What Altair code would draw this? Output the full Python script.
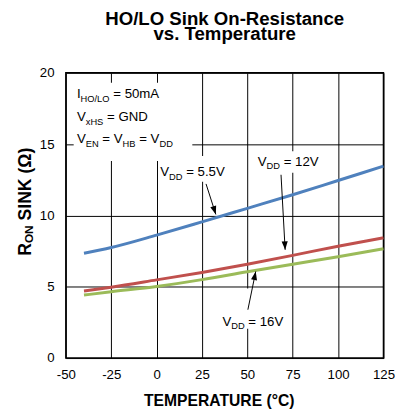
import math
import altair as alt
import pandas as pd

# ---------------- data ----------------
temps = [-40, -25, 0, 25, 50, 75, 100, 125]
r_vdd_55 = [7.35, 7.75, 8.62, 9.55, 10.50, 11.45, 12.45, 13.45]
r_vdd_12 = [4.70, 4.97, 5.48, 6.00, 6.58, 7.20, 7.84, 8.43]
r_vdd_16 = [4.42, 4.65, 5.02, 5.50, 6.05, 6.58, 7.10, 7.66]
series_names = ["VDD = 5.5V", "VDD = 12V", "VDD = 16V"]
series_colors = ["#4f81bd", "#c0504d", "#9bbb59"]
x_ticks = [-50, -25, 0, 25, 50, 75, 100, 125]
y_ticks = [0, 5, 10, 15, 20]
title_lines = ["HO/LO Sink On-Resistance", "vs. Temperature"]
x_title = "TEMPERATURE (°C)"

# ---------------- layout ----------------
W, H = 324, 291
X0, X1, Y0, Y1 = -50, 125, 0, 20
KX = W / (X1 - X0)
KY = H / (Y1 - Y0)
FONT = "Liberation Sans"
MAIN, SUB = 13.5, 9.5
SUB_DROP = 3.5

rows = []
for name, vals in zip(series_names, [r_vdd_55, r_vdd_12, r_vdd_16]):
    for t, v in zip(temps, vals):
        rows.append({"x": t, "y": v, "series": name})
df_lines = pd.DataFrame(rows)

# Arial/Liberation Sans advance widths (per 1000 em)
REG = {' ': 278, '(': 333, ')': 333, '.': 278, '/': 278, '=': 584,
       '0': 556, '1': 556, '2': 556, '5': 556, '6': 556,
       'A': 667, 'B': 667, 'D': 722, 'E': 667, 'G': 778, 'H': 722, 'I': 278,
       'L': 556, 'N': 722, 'O': 778, 'S': 667, 'V': 667, 'm': 833, 'x': 500}
BOLD = {' ': 278, '(': 333, ')': 333, 'I': 278, 'K': 722, 'N': 722,
        'O': 778, 'R': 722, 'S': 667, 'Ω': 768}


def tw(s, size, table):
    return sum(table.get(c, 556) for c in s) * size / 1000.0


# annotation labels: anchor (data coords) + runs (text, subscript?)
labels = [
    (-43.9, 18.21, [("I", 0), ("HO/LO", 1), (" = 50mA", 0)]),
    (-43.9, 16.61, [("V", 0), ("xHS", 1), (" = GND", 0)]),
    (-43.9, 15.07, [("V", 0), ("EN", 1), (" = V", 0), ("HB", 1), (" = V", 0), ("DD", 1)]),
    (2.01, 12.74, [("V", 0), ("DD", 1), (" = 5.5V", 0)]),
    (55.7, 13.47, [("V", 0), ("DD", 1), (" = 12V", 0)]),
    (36.26, 2.25, [("V", 0), ("DD", 1), (" = 16V", 0)]),
]
trows = []
for x0, y0, runs in labels:
    off = 0.0
    for txt, sub in runs:
        size = SUB if sub else MAIN
        stripped = txt.lstrip(" ")
        off += tw(txt[: len(txt) - len(stripped)], size, REG)
        trows.append({"x": x0 + off / KX,
                      "y": y0 - (SUB_DROP / KY if sub else 0.0),
                      "t": stripped, "s": size})
        off += tw(stripped, size, REG)
df_text = pd.DataFrame(trows)

# y-axis title (rotated, with subscript)
YT_X, YT_Y, YT_MAIN, YT_SUB = -69.44, 7.17, 18, 12
yrows = []
off = 0.0
for txt, sub in [("R", 0), ("ON", 1), (" SINK (Ω)", 0)]:
    size = YT_SUB if sub else YT_MAIN
    stripped = txt.lstrip(" ")
    off += tw(txt[: len(txt) - len(stripped)], size, BOLD)
    yrows.append({"x": YT_X + (3.0 / KX if sub else 0.0),
                  "y": YT_Y + off / KY, "t": stripped, "s": size})
    off += tw(stripped, size, BOLD)
df_ytitle = pd.DataFrame(yrows)

# white label boxes that hide grid lines
df_boxes = pd.DataFrame({
    "x": [-45.68, 1.31, 53.16, 33.72],
    "x2": [19.68, 43.44, 94.76, 73.15],
    "y": [19.31, 14.16, 14.50, 4.88],
    "y2": [13.81, 12.37, 12.99, 2.06],
})

# arrows: tail -> tip
arrows = pd.DataFrame({
    "x": [27.24, 68.56, 50.30],
    "y": [12.21, 12.85, 3.39],
    "x2": [32.64, 70.83, 54.62],
    "y2": [10.07, 7.59, 6.07],
})
arrows["ang"] = [
    (math.degrees(math.atan2(-(r.x2 - r.x) * KX, -(r.y2 - r.y) * KY)) + 360) % 360
    for r in arrows.itertuples()
]
heads_df = pd.DataFrame({"x": arrows["x2"], "y": arrows["y2"], "ang": arrows["ang"]})

xs = alt.Scale(domain=[X0, X1], nice=False, zero=False)
ys = alt.Scale(domain=[Y0, Y1], nice=False, zero=False)

x_axis = alt.Axis(
    values=x_ticks, grid=True, ticks=False, domain=False, labelFlush=False,
    labelExpr="'' + datum.value", labelFontSize=13.5, labelFont=FONT,
    labelColor="black", labelPadding=10, title=x_title, titleFont=FONT,
    titleFontSize=16, titleFontWeight="bold", titleColor="black",
    titleX=156, titleY=48, titleBaseline="alphabetic", titleAlign="center",
    gridColor="black", gridWidth=1, gridOpacity=1)
y_axis = alt.Axis(
    values=y_ticks, grid=True, ticks=False, domain=False,
    labelFontSize=13.5, labelFont=FONT, labelColor="black", labelPadding=12,
    title="", gridColor="black", gridWidth=1, gridOpacity=1)

lines = alt.Chart(df_lines).mark_line(strokeWidth=3, interpolate="monotone").encode(
    x=alt.X("x:Q", scale=xs, axis=x_axis, title=x_title),
    y=alt.Y("y:Q", scale=ys, axis=y_axis, title=""),
    color=alt.Color("series:N", scale=alt.Scale(domain=series_names, range=series_colors), legend=None),
    order=alt.Order("x:Q"),
)

boxes = alt.Chart(df_boxes).mark_rect(color="white").encode(
    x=alt.X("x:Q", scale=xs, title=x_title), x2="x2:Q",
    y=alt.Y("y:Q", scale=ys, title=""), y2="y2:Q")

rules = alt.Chart(arrows).mark_rule(color="black", strokeWidth=1).encode(
    x=alt.X("x:Q", scale=xs, title=x_title), x2="x2:Q",
    y=alt.Y("y:Q", scale=ys, title=""), y2="y2:Q")

heads = alt.Chart(heads_df).mark_point(
    shape="M0,0L-0.36,-1L0.36,-1Z", filled=True, color="black", opacity=1, size=300
).encode(
    x=alt.X("x:Q", scale=xs, title=x_title),
    y=alt.Y("y:Q", scale=ys, title=""),
    angle=alt.Angle("ang:Q", scale=None))

texts = alt.Chart(df_text).mark_text(
    align="left", baseline="alphabetic", font=FONT, color="black"
).encode(
    x=alt.X("x:Q", scale=xs, title=x_title),
    y=alt.Y("y:Q", scale=ys, title=""),
    text="t:N", size=alt.Size("s:Q", scale=None))

ytitle = alt.Chart(df_ytitle).mark_text(
    align="left", baseline="alphabetic", font=FONT, fontWeight="bold",
    color="black", angle=270
).encode(
    x=alt.X("x:Q", scale=xs, title=x_title),
    y=alt.Y("y:Q", scale=ys, title=""),
    text="t:N", size=alt.Size("s:Q", scale=None))

chart = alt.layer(boxes, lines, rules, heads, texts, ytitle).properties(
    width=W, height=H,
    title=alt.TitleParams(title_lines, font=FONT, fontSize=19, fontWeight="bold",
                          color="black", anchor="middle", frame="group",
                          offset=22, lineHeight=16),
    autosize=alt.AutoSizeParams(type="none"),
    padding={"left": 59, "top": 62, "right": 24, "bottom": 55},
).configure(
    background="white",
    view=alt.ViewConfig(stroke="black", strokeWidth=1.5),
)

chart.save("out.html", embed_options={"renderer": "svg", "actions": False})
